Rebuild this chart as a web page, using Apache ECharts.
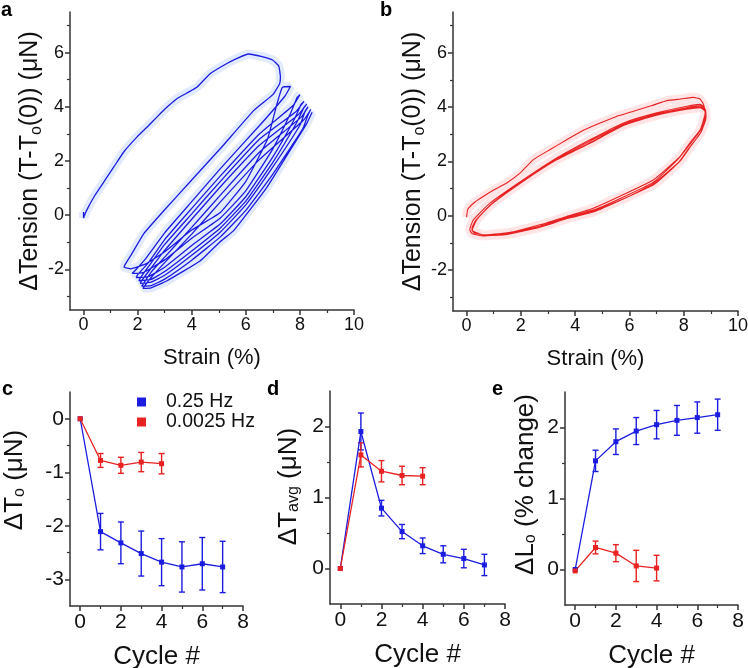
<!DOCTYPE html>
<html>
<head>
<meta charset="utf-8">
<script src="https://cdn.jsdelivr.net/npm/echarts@6/dist/echarts.min.js"></script>
<style>
  html, body { margin: 0; padding: 0; background: #fff; }
  #chart { width: 748px; height: 668px; }
</style>
</head>
<body>
<div id="chart"></div>
<script>
// ---- panel a: tension vs strain, 0.25 Hz (blue) ----
const aLoad0 = [[0,0.12],[0,-0.1],[0.1,0.15],[0.4,0.7],[0.8,1.3],[1.12,1.78],[1.5,2.35],[1.98,2.89],[2.4,3.3],[2.72,3.63],[3.1,4.0],[3.46,4.31],[3.9,4.55],[4.2,4.73],[4.69,5.23],[5.3,5.6],[5.7,5.8],[6.1,5.95],[6.6,5.85],[7.0,5.72],[7.22,5.5],[7.28,5.1],[7.25,4.85]];
const aUnload = [
  [[7.25,4.85],[7.0,4.45],[6.3,3.87],[5.06,2.46],[4.0,1.3],[3.0,0.2],[2.23,-0.68],[1.8,-1.4],[1.55,-1.8],[1.5,-1.92]],
  [[7.65,4.75],[7.45,4.4],[6.5,3.3],[5.06,1.72],[4.0,0.5],[3.0,-0.65],[2.3,-1.6],[1.9,-2.05],[1.8,-2.15]],
  [[8.0,4.45],[7.75,4.05],[6.5,3.0],[5.06,1.45],[4.0,0.25],[3.0,-0.9],[2.4,-1.75],[2.0,-2.2],[1.95,-2.3]],
  [[8.15,4.2],[7.85,3.82],[6.5,2.8],[5.06,1.25],[4.0,0.05],[3.0,-1.08],[2.4,-1.9],[2.1,-2.32],[2.05,-2.42]],
  [[8.25,4.1],[7.95,3.72],[6.5,2.58],[5.06,1.05],[4.0,-0.15],[3.0,-1.3],[2.5,-1.95],[2.15,-2.42],[2.1,-2.52]],
  [[8.3,4.0],[8.05,3.62],[6.5,2.32],[5.06,0.74],[4.0,-0.45],[3.0,-1.55],[2.5,-2.1],[2.2,-2.55],[2.15,-2.62]],
  [[8.4,3.9],[8.15,3.52],[6.5,2.05],[5.06,0.49],[4.0,-0.7],[3.0,-1.75],[2.5,-2.3],[2.25,-2.62],[2.2,-2.7]]
];
const aLoad = [
  [[1.5,-1.92],[1.75,-1.98],[2.3,-1.8],[3.0,-1.35],[4.0,-0.55],[5.06,0.1],[6.0,1.25],[6.8,2.8],[7.15,4.1],[7.35,4.72],[7.65,4.75]],
  [[1.8,-2.15],[2.2,-2.12],[3.0,-1.65],[4.0,-0.85],[5.06,-0.1],[6.0,0.9],[7.0,2.45],[7.65,3.75],[7.9,4.35],[8.0,4.45]],
  [[1.95,-2.3],[2.4,-2.27],[3.0,-1.92],[4.0,-1.12],[5.06,-0.32],[6.0,0.68],[7.0,2.15],[7.8,3.55],[8.05,4.1],[8.15,4.2]],
  [[2.05,-2.42],[2.5,-2.37],[3.0,-2.08],[4.0,-1.32],[5.06,-0.47],[6.0,0.52],[7.0,1.95],[7.9,3.45],[8.15,3.98],[8.25,4.1]],
  [[2.1,-2.52],[2.5,-2.47],[3.0,-2.22],[4.0,-1.48],[5.06,-0.62],[6.0,0.38],[7.0,1.78],[8.0,3.32],[8.2,3.85],[8.3,4.0]],
  [[2.15,-2.62],[2.5,-2.6],[3.0,-2.36],[4.0,-1.66],[5.06,-0.8],[6.0,0.18],[7.0,1.52],[8.1,3.18],[8.3,3.7],[8.4,3.9]],
  [[2.2,-2.7],[2.5,-2.68],[3.09,-2.42],[4.32,-1.68],[5.06,-0.97],[5.55,-0.57],[6.78,1.03],[7.64,2.4],[8.25,3.38],[8.45,3.8]]
];

// ---- panel b: tension vs strain, 0.0025 Hz (red) ----
const bLoad0 = [[0,-0.05],[0.05,0.25],[0.3,0.5],[0.61,0.71],[1.0,0.95],[1.48,1.21],[2.0,1.6],[2.46,2.07],[3.08,2.44],[3.69,2.8],[4.3,3.15],[4.92,3.42],[5.5,3.65],[6.15,3.85],[6.8,4.05],[7.38,4.24],[7.9,4.3],[8.36,4.36],[8.6,4.3],[8.73,4.1]];
const bUnload = [
  [[8.73,4.1],[8.79,3.79],[8.61,3.17],[8.24,2.7],[7.87,2.19],[6.89,1.33],[5.9,0.84],[4.67,0.28],[3.69,-0.02],[2.7,-0.33],[1.48,-0.64],[0.61,-0.74],[0.2,-0.65],[0.12,-0.5]],
  [[8.75,4.0],[8.8,3.7],[8.65,3.2],[8.2,2.6],[7.8,2.1],[6.9,1.25],[5.9,0.75],[4.7,0.22],[3.7,-0.05],[2.7,-0.38],[1.5,-0.62],[0.6,-0.7],[0.25,-0.6],[0.2,-0.45]],
  [[8.78,3.95],[8.82,3.65],[8.65,3.1],[8.25,2.55],[7.85,2.0],[6.9,1.2],[5.95,0.7],[4.7,0.18],[3.7,-0.08],[2.7,-0.4],[1.5,-0.66],[0.7,-0.72],[0.2,-0.55],[0.25,-0.4]],
  [[8.8,3.9],[8.82,3.6],[8.62,3.05],[8.2,2.5],[7.8,1.95],[6.9,1.15],[5.9,0.68],[4.7,0.15],[3.7,-0.1],[2.7,-0.42],[1.5,-0.68],[0.7,-0.72],[0.2,-0.52],[0.25,-0.35]]
];
const bLoad = [
  [[0.12,-0.5],[0.25,-0.15],[0.86,0.47],[2.09,1.33],[3.32,2.13],[4.55,2.8],[5.78,3.42],[7.01,3.79],[8.12,4.03],[8.6,4.1],[8.75,4.0]],
  [[0.2,-0.45],[0.35,-0.15],[0.9,0.42],[2.1,1.3],[3.3,2.08],[4.55,2.75],[5.8,3.38],[7.0,3.75],[8.1,3.98],[8.6,4.05],[8.78,3.95]],
  [[0.25,-0.4],[0.4,-0.1],[0.95,0.45],[2.1,1.28],[3.3,2.05],[4.6,2.72],[5.8,3.35],[7.0,3.72],[8.1,3.95],[8.6,4.0],[8.8,3.9]],
  [[0.25,-0.35],[0.45,-0.05],[1.0,0.5],[2.1,1.3],[3.3,2.05],[4.6,2.7],[5.8,3.33],[7.0,3.7],[8.1,3.92],[8.6,3.98],[8.8,3.85]]
];

// ---- panels c, d, e: per-cycle values ----
const cycles = [0, 1, 2, 3, 4, 5, 6, 7];
const cyclesRed = [0, 1, 2, 3, 4];
const dT0Blue = [0, -2.11, -2.32, -2.52, -2.68, -2.77, -2.71, -2.77];
const dT0BlueErr = [0, 0.34, 0.39, 0.42, 0.44, 0.47, 0.49, 0.48];
const dT0Red = [0, -0.78, -0.87, -0.81, -0.84];
const dT0RedErr = [0, 0.13, 0.15, 0.18, 0.19];
const dTavgBlue = [0, 1.93, 0.85, 0.52, 0.32, 0.20, 0.14, 0.05];
const dTavgBlueErr = [0, 0.26, 0.11, 0.10, 0.11, 0.12, 0.13, 0.15];
const dTavgRed = [0, 1.6, 1.37, 1.31, 1.30];
const dTavgRedErr = [0, 0.17, 0.15, 0.13, 0.12];
const dL0Blue = [0, 1.53, 1.80, 1.95, 2.04, 2.10, 2.14, 2.18];
const dL0BlueErr = [0, 0.15, 0.18, 0.19, 0.20, 0.21, 0.22, 0.22];
const dL0Red = [-0.02, 0.31, 0.23, 0.05, 0.02];
const dL0RedErr = [0, 0.09, 0.12, 0.22, 0.18];

const seriesNames = ['0.25 Hz', '0.0025 Hz'];

const FONT = 'Arial, "Liberation Sans", sans-serif';
const BLUE = '#1c1ce0';
const RED = '#e82222';
const AXIS = '#333';

function joinPath(first, unloads, loads) {
  let pts = first.slice();
  for (let i = 0; i < unloads.length; i++) {
    pts = pts.concat(unloads[i].slice(1));
    if (loads[i]) pts = pts.concat(loads[i].slice(1));
  }
  return pts;
}

// main axis (labels + major ticks) and an overlay axis carrying the minor ticks
function axisPair(dim, grid, min, max, majors, minors, fs, name, gap, nameSize, shift) {
  const pos = dim === 'x' ? 'bottom' : 'left';
  const main = {
    type: 'value', gridIndex: grid, min: min, max: max, position: pos,
    axisLine: { show: true, onZero: false, lineStyle: { color: AXIS, width: 1.5 } },
    axisTick: { show: true, customValues: majors, length: 5, lineStyle: { color: AXIS, width: 1.5 } },
    axisLabel: { customValues: majors, fontSize: fs, color: '#111', fontFamily: FONT, margin: 6 },
    splitLine: { show: false },
    name: name, nameLocation: 'middle', nameGap: gap,
    nameTextStyle: {
      fontSize: nameSize, color: '#111', fontFamily: FONT,
      padding: [0, 0, 0, shift || 0],
      rich: { s: { fontSize: Math.round(nameSize * 0.62), fontFamily: FONT, color: '#111', padding: [11, 0, 0, 0] } }
    }
  };
  const minor = {
    type: 'value', gridIndex: grid, min: min, max: max, position: pos,
    axisLine: { show: false, onZero: false },
    axisTick: { show: true, customValues: minors, length: 3, lineStyle: { color: AXIS, width: 1.2 } },
    axisLabel: { show: false },
    splitLine: { show: false }
  };
  return [main, minor];
}

const xAxes = [].concat(
  axisPair('x', 0, -0.5, 10, [0,2,4,6,8,10], [1,3,5,7,9], 18, 'Strain (%)', 37, 22),
  axisPair('x', 1, -0.5, 10, [0,2,4,6,8,10], [1,3,5,7,9], 18, 'Strain (%)', 37, 22),
  axisPair('x', 2, -0.5, 8, [0,2,4,6,8], [1,3,5,7], 21, 'Cycle #', 38, 26),
  axisPair('x', 3, -0.5, 8, [0,2,4,6,8], [1,3,5,7], 21, 'Cycle #', 38, 26),
  axisPair('x', 4, -0.5, 8, [0,2,4,6,8], [1,3,5,7], 21, 'Cycle #', 38, 26)
);
const yAxes = [].concat(
  axisPair('y', 0, -3.5, 7.5, [-2,0,2,4,6], [-3,-1,1,3,5,7], 18, 'ΔTension (T-T{s|o}(0)) (μN)', 23, 25),
  axisPair('y', 1, -3.5, 7.5, [-2,0,2,4,6], [-3,-1,1,3,5,7], 18, 'ΔTension (T-T{s|o}(0)) (μN)', 24, 25),
  axisPair('y', 2, -3.5, 0.5, [-3,-2,-1,0], [-2.5,-1.5,-0.5], 21, 'ΔT{s|o} (μN)', 42, 26, 38),
  axisPair('y', 3, -0.5, 2.5, [0,1,2], [0.5,1.5], 21, 'ΔT{s|avg} (μN)', 28, 26, 22),
  axisPair('y', 4, -0.5, 2.5, [0,1,2], [0.5,1.5], 21, 'ΔL{s|o} (% change)', 26, 26, 28)
);

function errBars(color) {
  return function (params, api) {
    const x = api.value(0), y = api.value(1), e = api.value(2);
    if (!e) return null;
    const t = api.coord([x, y + e]);
    const b = api.coord([x, y - e]);
    const w = 3;
    const st = { stroke: color, lineWidth: 1.4 };
    return {
      type: 'group',
      children: [
        { type: 'line', shape: { x1: t[0], y1: t[1], x2: b[0], y2: b[1] }, style: st },
        { type: 'line', shape: { x1: t[0] - w, y1: t[1], x2: t[0] + w, y2: t[1] }, style: st },
        { type: 'line', shape: { x1: b[0] - w, y1: b[1], x2: b[0] + w, y2: b[1] }, style: st }
      ]
    };
  };
}

function cyclePanel(grid, xs, ys, errs, color, name) {
  return [
    {
      type: 'custom', name: name, xAxisIndex: grid * 2, yAxisIndex: grid * 2,
      renderItem: errBars(color), encode: { x: 0, y: 1 },
      data: xs.map((c, i) => [c, ys[i], errs[i]]), z: 2
    },
    {
      type: 'line', name: name, xAxisIndex: grid * 2, yAxisIndex: grid * 2,
      data: xs.map((c, i) => [c, ys[i]]),
      symbol: 'rect', symbolSize: 5, showSymbol: true,
      lineStyle: { color: color, width: 1.3 }, itemStyle: { color: color },
      z: 3
    }
  ];
}

const pathA = joinPath(aLoad0, aUnload, aLoad);
const pathB = joinPath(bLoad0, bUnload, bLoad);

const series = [
  { type: 'line', xAxisIndex: 0, yAxisIndex: 0, data: pathA, showSymbol: false, smooth: 0.12,
    lineStyle: { color: 'rgba(110,150,245,0.2)', width: 9 }, z: 1, silent: true },
  { type: 'line', xAxisIndex: 0, yAxisIndex: 0, data: pathA, showSymbol: false, smooth: 0.12,
    lineStyle: { color: BLUE, width: 1.3 }, z: 2 },
  { type: 'line', xAxisIndex: 2, yAxisIndex: 2, data: pathB, showSymbol: false, smooth: 0.15,
    lineStyle: { color: 'rgba(255,110,110,0.18)', width: 9 }, z: 1, silent: true },
  { type: 'line', xAxisIndex: 2, yAxisIndex: 2, data: pathB, showSymbol: false, smooth: 0.15,
    lineStyle: { color: RED, width: 1.1 }, z: 2 }
].concat(
  cyclePanel(2, cycles, dT0Blue, dT0BlueErr, BLUE, seriesNames[0]),
  cyclePanel(2, cyclesRed, dT0Red, dT0RedErr, RED, seriesNames[1]),
  cyclePanel(3, cycles, dTavgBlue, dTavgBlueErr, BLUE, seriesNames[0]),
  cyclePanel(3, cyclesRed, dTavgRed, dTavgRedErr, RED, seriesNames[1]),
  cyclePanel(4, cycles, dL0Blue, dL0BlueErr, BLUE, seriesNames[0]),
  cyclePanel(4, cyclesRed, dL0Red, dL0RedErr, RED, seriesNames[1])
);

const letters = [['a', 1, 0], ['b', 380, 0], ['c', 2, 379], ['d', 267, 379], ['e', 492, 379]];

const chart = echarts.init(document.getElementById('chart'), null, { renderer: 'canvas' });
chart.setOption({
  backgroundColor: '#fff',
  animation: false,
  grid: [
    { left: 70, top: 12, width: 284, height: 298, outerBoundsMode: 'none' },
    { left: 453, top: 12, width: 285, height: 299, outerBoundsMode: 'none' },
    { left: 70, top: 392, width: 173, height: 214, outerBoundsMode: 'none' },
    { left: 330, top: 391, width: 175, height: 213, outerBoundsMode: 'none' },
    { left: 565, top: 392, width: 173, height: 213, outerBoundsMode: 'none' }
  ],
  xAxis: xAxes,
  yAxis: yAxes,
  legend: {
    data: seriesNames.map(n => ({ name: n, icon: 'rect', itemStyle: { color: n === seriesNames[0] ? BLUE : RED } })),
    orient: 'vertical', left: 137, top: 392, padding: 0, itemGap: 0,
    itemWidth: 9, itemHeight: 9, selectedMode: false,
    textStyle: { fontSize: 19.5, color: '#111', fontFamily: FONT, lineHeight: 17, padding: [0, 0, 0, 15] }
  },
  graphic: letters.map(l => ({
    type: 'text', left: l[1], top: l[2],
    style: { text: l[0], fontSize: 20, fontWeight: 'bold', fontFamily: FONT, fill: '#000' }
  })),
  series: series
});
</script>
</body>
</html>
